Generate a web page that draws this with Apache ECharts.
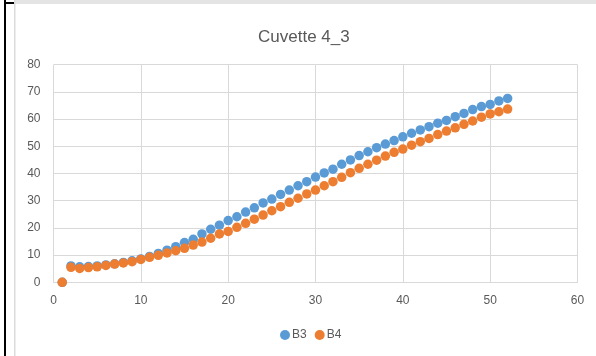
<!DOCTYPE html>
<html>
<head>
<meta charset="utf-8">
<script src="https://cdn.jsdelivr.net/npm/echarts@6/dist/echarts.min.js"></script>
<style>
  html, body { margin: 0; padding: 0; background: #ffffff; }
  #chart { width: 596px; height: 356px; }
</style>
</head>
<body>
<div id="chart"></div>
<script>
// Readings per step for the two channels of cuvette 4_3
const steps = [1,2,3,4,5,6,7,8,9,10,11,12,13,14,15,16,17,18,19,20,21,22,23,24,25,26,
  27,28,29,30,31,32,33,34,35,36,37,38,39,40,41,42,43,44,45,46,47,48,49,50,51,52];
const b3 = [0,6.0,5.7,5.8,6.0,6.4,6.8,7.3,7.9,8.6,9.5,10.6,11.8,13.1,14.6,15.8,17.8,19.5,21.0,22.7,
  24.1,25.8,27.4,29.2,30.6,32.3,33.9,35.5,37.0,38.7,40.2,41.6,43.4,45.0,46.6,48.0,49.5,50.8,52.1,53.5,
  54.8,56.0,57.2,58.5,59.5,60.9,62.1,63.5,64.6,65.4,66.7,67.6];
const b4 = [0,5.5,5.1,5.4,5.7,6.2,6.7,7.1,7.6,8.4,9.2,9.9,10.8,11.6,12.5,13.7,14.8,16.2,17.8,18.7,
  20.2,21.7,23.2,24.7,26.3,27.8,29.4,30.9,32.5,33.9,35.5,37.0,38.6,40.3,41.9,43.4,44.9,46.4,47.8,49.0,
  50.4,51.7,52.9,54.3,55.6,56.8,58.1,59.3,60.7,61.9,62.7,63.7];
const seriesNames = ['B3', 'B4'];
const titleText = 'Cuvette 4_3';

const pairs = (ys) => steps.map((x, i) => [x, ys[i]]);
const labelFont = 'Liberation Sans, Arial, sans-serif';
const textGray = '#595959';
const gridGray = '#d9d9d9';

const chart = echarts.init(document.getElementById('chart'), null, { renderer: 'canvas' });
chart.setOption({
  animation: false,
  backgroundColor: '#ffffff',
  graphic: [
    // outer frame pieces
    { type: 'rect', shape: { x: 14, y: 0, width: 582, height: 4 }, style: { fill: '#e4e4e4' }, silent: true },
    { type: 'rect', shape: { x: 14, y: 0, width: 1.5, height: 356 }, style: { fill: '#dcdcdc' }, silent: true },
    { type: 'rect', shape: { x: 4, y: 0, width: 2, height: 356 }, style: { fill: '#000000' }, silent: true },
    { type: 'rect', shape: { x: 4, y: 2, width: 10, height: 2 }, style: { fill: '#000000' }, silent: true }
  ],
  title: {
    text: titleText,
    left: 253,
    top: 24,
    textStyle: { color: textGray, fontSize: 17, fontWeight: 'normal', fontFamily: labelFont }
  },
  legend: {
    data: seriesNames,
    left: 275,
    top: 324,
    itemWidth: 10,
    itemHeight: 10,
    itemGap: 8,
    icon: 'circle',
    textStyle: { color: textGray, fontSize: 12, fontFamily: labelFont, padding: [0, 0, 0, -3] }
  },
  grid: { left: 53.5, right: 18.5, top: 64.7, bottom: 73.7, containLabel: false },
  xAxis: {
    type: 'value', min: 0, max: 60, interval: 10,
    axisLine: { show: true, lineStyle: { color: gridGray, width: 1 } },
    axisTick: { show: false },
    axisLabel: { color: textGray, fontSize: 12, fontFamily: labelFont, margin: 12 },
    splitLine: { show: true, lineStyle: { color: gridGray, width: 1 } }
  },
  yAxis: {
    type: 'value', min: 0, max: 80, interval: 10,
    axisLine: { show: false },
    axisTick: { show: false },
    axisLabel: { color: textGray, fontSize: 12, fontFamily: labelFont, margin: 13 },
    splitLine: { show: true, lineStyle: { color: gridGray, width: 1 } }
  },
  series: [
    { name: seriesNames[0], type: 'scatter', symbol: 'circle', symbolSize: 9.5,
      itemStyle: { color: '#5b9bd5', opacity: 1 }, data: pairs(b3) },
    { name: seriesNames[1], type: 'scatter', symbol: 'circle', symbolSize: 9.5,
      itemStyle: { color: '#ed7d31', opacity: 1 }, data: pairs(b4) }
  ]
});
</script>
</body>
</html>
